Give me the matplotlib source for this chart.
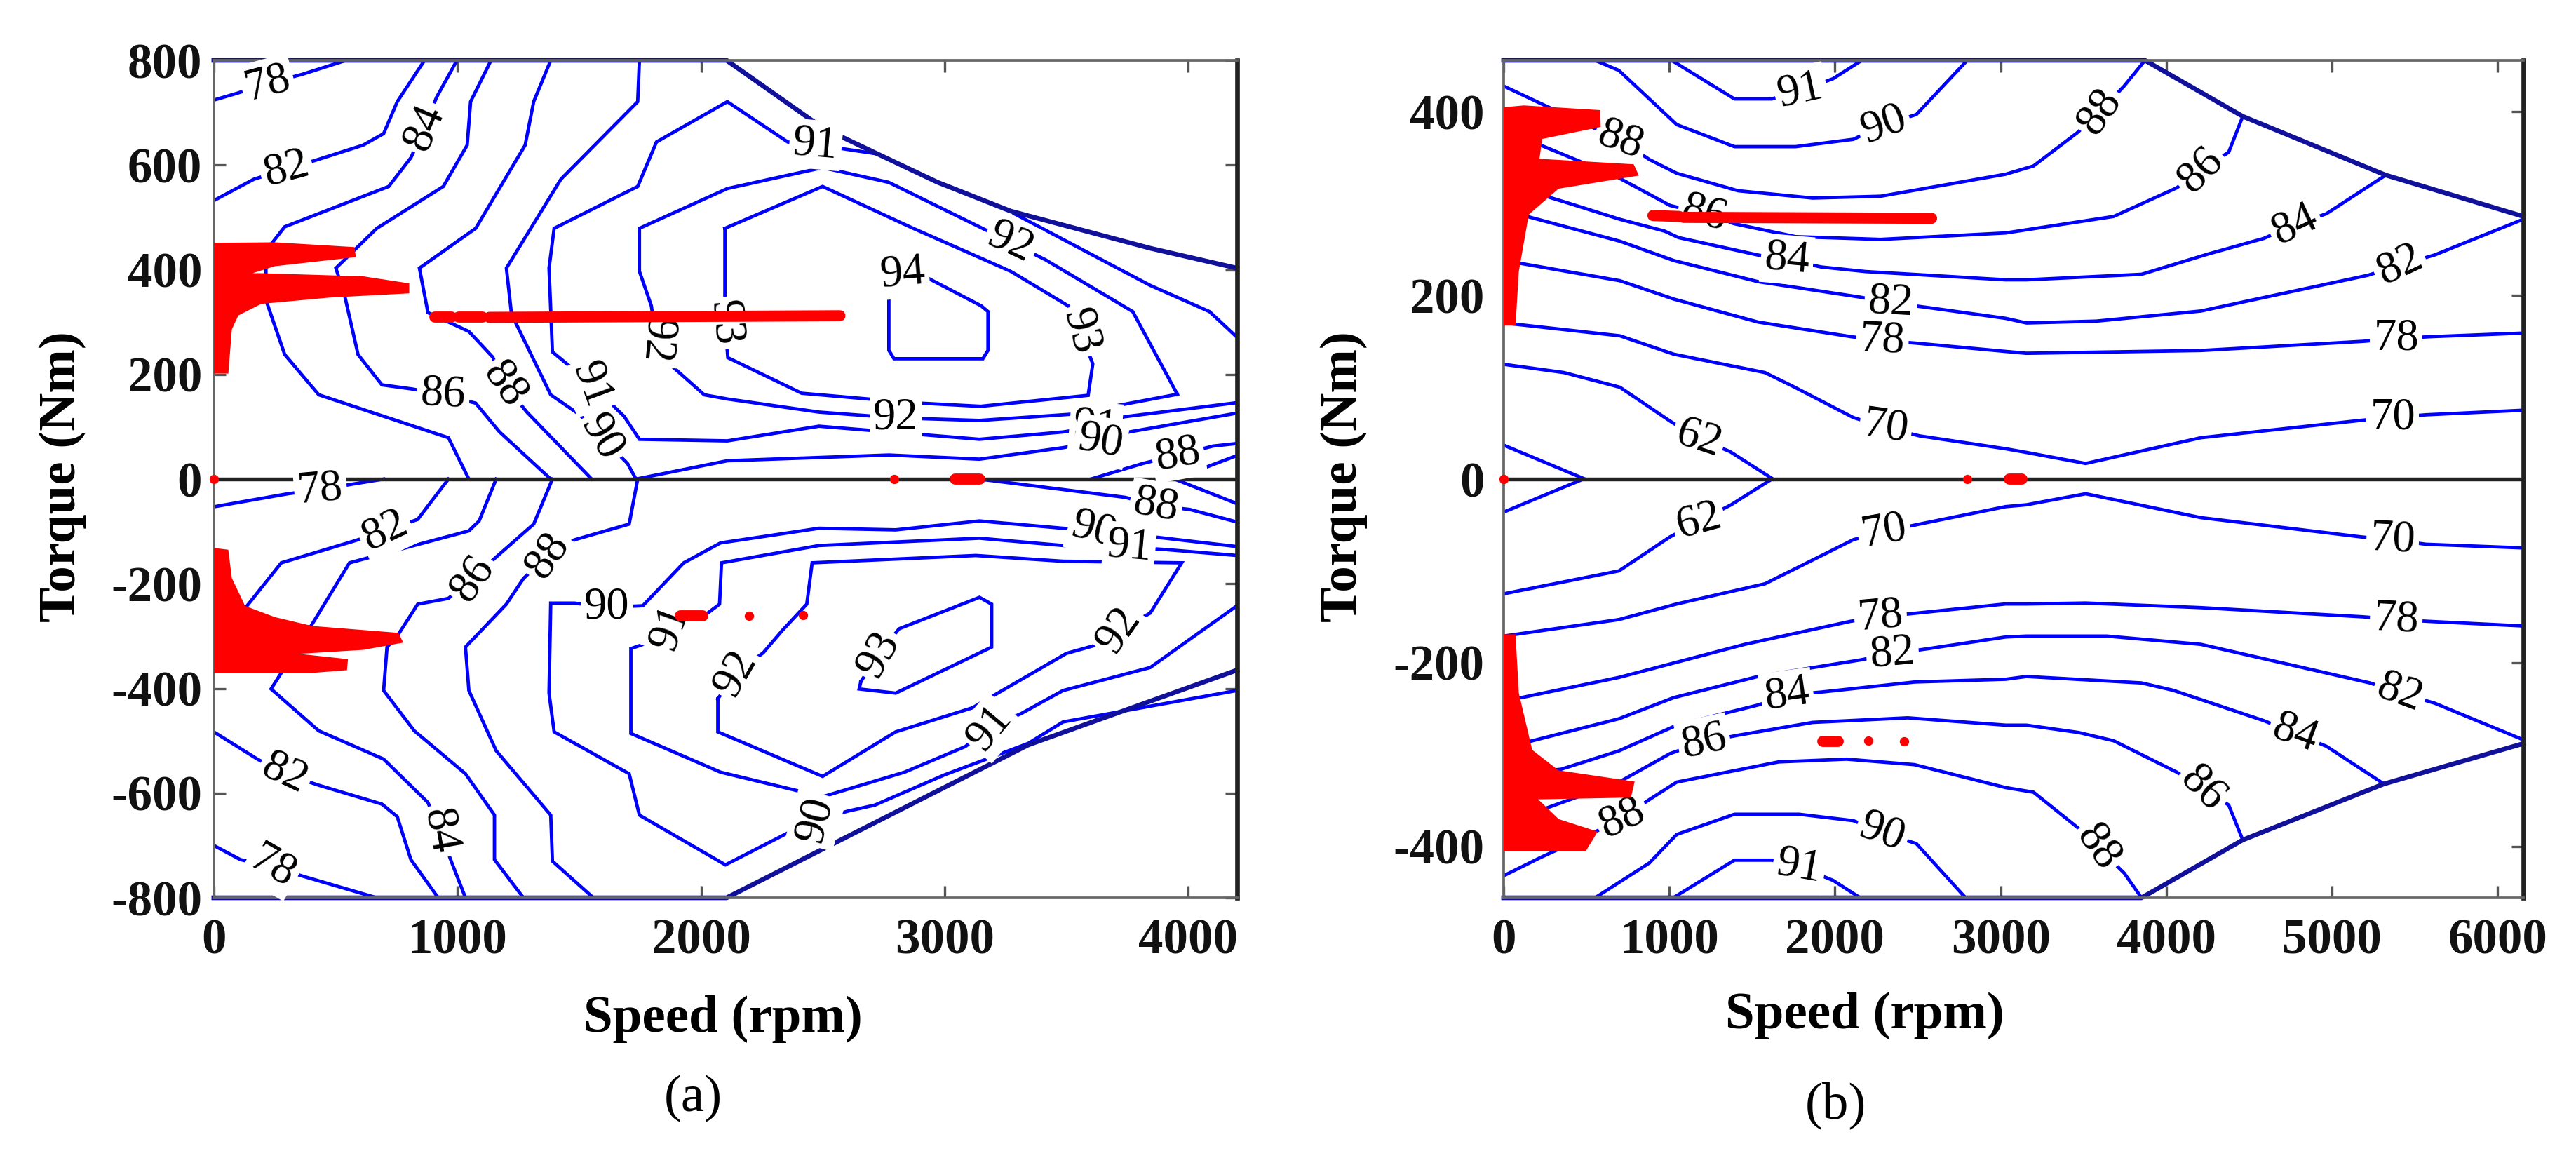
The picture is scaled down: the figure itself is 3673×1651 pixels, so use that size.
import matplotlib
matplotlib.use("Agg")
import matplotlib.pyplot as plt

plt.rcParams["axes.unicode_minus"] = False

# ---------------- panel (a): efficiency contours (speed rpm, torque Nm) ----------------
a_u78 = [(0, 724), (95, 737), (221, 756), (361, 773), (543, 800)]
a_u82 = [(0, 532), (165, 573), (298, 592), (431, 611), (613, 638), (697, 660), (753, 721), (865, 800)]
a_u84 = [(998, 800), (914, 729), (865, 671), (809, 614), (718, 559), (291, 482), (214, 436), (214, 342),
         (291, 238), (431, 161), (963, 79), (1047, 0)]
a_u86 = [(1138, 800), (1054, 721), (1040, 638), (942, 559), (669, 479), (501, 403), (536, 353), (592, 238),
         (690, 180), (816, 172), (942, 161), (1075, 145), (1173, 90), (1383, 0)]
a_u88 = [(1383, 800), (1313, 721), (1278, 638), (1075, 479), (844, 403), (879, 318), (1047, 282), (1145, 233),
         (1194, 180), (1285, 128), (1551, 0)]
a_u90 = [(1747, 800), (1740, 721), (1425, 573), (1201, 403), (1222, 315), (1383, 161), (1502, 123), (1593, 79),
         (1698, 30), (1733, 0), (2108, 35), (2771, 46), (3143, 38), (3486, 60), (3640, 72), (3757, 90), (4200, 126)]
a_u91 = [(2713, 622), (2627, 628), (2470, 639), (2356, 644), (2108, 721), (1817, 644), (1740, 559), (1397, 479),
         (1376, 403), (1390, 243), (1481, 208), (1551, 180), (1684, 120), (1747, 76), (2108, 73), (2484, 101),
         (3143, 76), (3486, 90), (3620, 100), (3737, 119), (4200, 146)]
a_u91b = [(3286, 507), (3844, 370), (4087, 320), (4200, 271)]
a_u92 = [(3955, 162), (3772, 320), (3414, 419), (3271, 452), (3164, 477), (2770, 567), (2499, 595), (2108, 555),
         (1747, 479), (1747, 397), (1796, 331), (1817, 265), (1873, 219), (2013, 161), (2108, 153), (2484, 128),
         (2799, 117), (3143, 112), (3522, 124), (3955, 162)]
a_u93 = [(2098, 479), (2098, 298), (2110, 232), (2413, 164), (2860, 146), (3148, 139), (3589, 160), (3608, 220),
         (3558, 282), (3507, 331), (3271, 397), (2871, 479), (2499, 559), (2098, 479)]
a_u94 = [(2771, 353), (2771, 246), (2792, 230), (3157, 230), (3178, 246), (3178, 320), (3150, 331), (2935, 383),
         (2828, 392), (2771, 353)]
a_u88b = [(3600, 0), (3815, 30), (3958, 46), (4101, 63), (4200, 68)]
a_u_x = [(3944, 0), (4200, 45)]
a_l78a = [(0, -53), (305, -28), (438, -20), (578, -9), (697, 0)]
a_l82a = [(40, -300), (123, -250), (277, -160), (571, -119), (704, -99), (837, -77), (963, 0)]
a_l84 = [(1159, 0), (1089, -80), (1047, -99), (557, -160), (396, -283), (235, -401), (431, -481), (697, -535),
         (879, -618), (928, -673), (977, -733), (1033, -800)]
a_l86 = [(1390, 0), (1313, -86), (1159, -149), (1061, -190), (963, -228), (837, -239), (753, -300), (711, -321),
         (697, -404), (823, -481), (1033, -563), (1152, -642), (1152, -727), (1271, -800)]
a_l88 = [(1740, 0), (1705, -86), (1481, -116), (1369, -146), (1271, -190), (1201, -239), (1033, -321),
         (1047, -404), (1159, -519), (1383, -642), (1390, -730), (1558, -800)]
a_l90 = [(4200, -129), (3758, -105), (3615, -97), (3486, -94), (3143, -80), (2799, -97), (2484, -94),
         (2080, -122), (1929, -160), (1761, -242), (1614, -245), (1481, -237), (1383, -237), (1376, -409),
         (1397, -483), (1705, -563), (1747, -642), (2100, -737), (2348, -678), (2470, -651), (2606, -634),
         (2713, -623), (3000, -565), (3343, -505), (3486, -464), (4200, -404)]
a_l91 = [(4200, -146), (3915, -135), (3758, -130), (3486, -127), (3143, -113), (2484, -127), (2084, -160),
         (2076, -239), (2013, -261), (1873, -283), (1761, -316), (1712, -324), (1712, -486), (2080, -560),
         (2499, -607), (2835, -560), (3085, -511), (3186, -475), (3314, -448), (3486, -404), (3844, -360),
         (4058, -289), (4200, -242)]
a_l92 = [(2069, -420), (2069, -483), (2499, -568), (2799, -483), (3114, -437), (3500, -333), (3608, -319),
         (3715, -289), (3844, -256), (3973, -160), (3486, -157), (3128, -146), (2456, -160), (2434, -239),
         (2334, -289), (2255, -332), (2141, -371), (2069, -420)]
a_l93 = [(2656, -387), (2649, -401), (2799, -409), (3193, -321), (3193, -239), (3143, -226), (2813, -286),
         (2728, -335), (2656, -387)]
a_l82b = [(0, -483), (179, -535), (291, -563), (431, -585), (690, -621), (753, -645), (809, -727), (921, -800)]
a_l78b = [(0, -700), (109, -727), (242, -741), (375, -760), (669, -800)]
a_l88b = [(3143, 0), (3742, -35), (3867, -51), (4006, -58), (4200, -82)]
a_l_x = [(3944, 0), (4200, -47)]
a_bound_u = [(0, 800), (2105, 800), (2499, 671), (2971, 567), (3271, 512), (3844, 441), (4200, 403)]
a_bound_l = [(0, -800), (2105, -800), (3343, -508), (4200, -365)]

a_lab_val = [78, 82, 84, 86, 88, 91, 90, 91, 92, 94, 93, 93, 92, 92, 91, 90, 88,
             78, 82, 86, 88, 90, 91, 92, 93, 92, 90, 91, 88, 91, 90, 84, 82, 78]
a_lab_s = [221, 298, 865, 942, 1194, 1551, 1593, 2470, 3271, 2828, 3558, 2098, 1817, 2799, 3620, 3640, 3958,
           438, 704, 1061, 1369, 1614, 1873, 2141, 2728, 3715, 3615, 3758, 3867, 3186, 2470, 928, 291, 242]
a_lab_t = [756, 592, 671, 161, 180, 180, 79, 639, 452, 392, 282, 298, 265, 117, 100, 72, 46,
           -20, -99, -190, -146, -245, -283, -371, -335, -289, -97, -130, -51, -475, -651, -673, -563, -741]

# operating points (red): cloud outlines, point strings, isolated dots
a_red_up = [(0, 448), (249, 449), (571, 440), (575, 427), (249, 410), (160, 397), (130, 390), (193, 390),
            (613, 384), (795, 371), (795, 358), (473, 350), (193, 338), (95, 315), (67, 287), (53, 205),
            (0, 205)]
a_red_low = [(0, -135), (53, -138), (67, -190), (123, -245), (249, -267), (403, -284), (753, -297), (767, -310),
             (613, -323), (403, -329), (263, -333), (543, -347), (540, -362), (403, -367), (0, -367)]
a_red_runs = [[(907, 310), (977, 310)], [(1005, 309), (1103, 309)], [(1131, 309), (2570, 312)],
              [(1915, -261), (2006, -261)], [(3042, 0), (3143, 0)]]
a_red_dots = [(0, 0), (2792, 0), (2198, -261), (2420, -260)]

# ---------------- panel (b) ----------------
b_u62a = [(0, 37), (491, 0)]
b_u62 = [(0, 125), (364, 116), (702, 100), (1006, 63), (1175, 44), (1366, 30), (1626, 0)]
b_u70 = [(0, 170), (54, 169), (702, 156), (1027, 136), (1577, 116), (1746, 101), (2111, 67), (2306, 56),
         (2511, 47), (3030, 33), (3156, 29), (3513, 17), (4208, 45), (5176, 64), (5366, 67), (5566, 70), (6155, 75)]
b_u78 = [(0, 238), (68, 236), (702, 216), (1027, 196), (1535, 171), (2099, 155), (2286, 151), (2491, 148),
         (3030, 139), (3156, 137), (4208, 140), (5187, 150), (5387, 153), (5587, 155), (6155, 159)]
b_u82 = [(0, 292), (142, 286), (474, 270), (702, 259), (1027, 238), (1535, 215), (2155, 198), (2337, 192),
         (2552, 187), (3030, 175), (3156, 170), (3577, 172), (4208, 183), (5218, 222), (5408, 233), (5618, 244),
         (6155, 283)]
b_u84 = [(0, 322), (400, 300), (700, 283), (972, 270), (1055, 263), (1535, 244), (1711, 239), (1916, 231),
         (2184, 226), (3030, 217), (3156, 217), (3850, 223), (4250, 245), (4587, 262), (4776, 277), (4966, 289),
         (5324, 331)]
b_u86 = [(0, 380), (286, 359), (675, 330), (1004, 298), (1209, 289), (1393, 278), (1762, 264), (2276, 261),
         (3030, 268), (3682, 286), (4061, 317), (4208, 336), (4376, 356), (4461, 395)]
b_u88 = [(0, 428), (224, 409), (706, 369), (880, 348), (1045, 333), (1414, 314), (1865, 306), (2276, 308),
         (3030, 332), (3198, 341), (3461, 377), (3598, 400), (3745, 428), (3871, 456)]
b_u90 = [(552, 456), (696, 445), (1045, 386), (1393, 362), (1762, 362), (2111, 370), (2296, 386), (2491, 397),
         (2798, 456)]
b_u91 = [(1014, 456), (1393, 414), (1619, 414), (1793, 423), (1988, 436), (2162, 456)]
b_l62a = [(0, -36), (481, 0)]
b_l62 = [(0, -125), (696, -100), (1004, -63), (1178, -46), (1373, -28), (1619, 0)]
b_l70 = [(0, -171), (696, -153), (1045, -136), (1578, -114), (2111, -66), (2296, -57), (2511, -49), (3030, -30),
         (3156, -28), (3513, -16), (4208, -42), (5176, -63), (5366, -66), (5566, -71), (6155, -75)]
b_l78 = [(0, -240), (81, -239), (696, -216), (1455, -180), (2091, -155), (2275, -150), (2491, -146),
         (3030, -136), (3156, -136), (3513, -135), (4208, -140), (5187, -150), (5387, -153), (5587, -155),
         (6155, -160)]
b_l82 = [(0, -292), (152, -286), (696, -261), (1027, -238), (1535, -215), (2152, -197), (2347, -190),
         (2552, -185), (3030, -172), (3156, -171), (3640, -171), (4208, -180), (5229, -222), (5408, -233),
         (5618, -244), (6155, -284)]
b_l84 = [(0, -322), (347, -316), (696, -296), (1045, -268), (1537, -246), (1711, -235), (1916, -232),
         (2480, -221), (3030, -218), (3156, -215), (3850, -222), (4040, -230), (4587, -263), (4776, -277),
         (4966, -291), (5313, -332)]
b_l86 = [(0, -375), (696, -330), (1004, -299), (1209, -286), (1414, -279), (1865, -265), (2439, -260),
         (3030, -268), (3156, -268), (3471, -276), (3682, -285), (4061, -319), (4219, -337), (4376, -355),
         (4461, -393)]
b_l88 = [(0, -432), (224, -412), (491, -390), (716, -369), (880, -349), (1045, -330), (1660, -308),
         (2070, -305), (2480, -311), (3030, -336), (3198, -341), (3461, -379), (3587, -401), (3745, -429),
         (3850, -456)]
b_l90 = [(552, -456), (880, -418), (1045, -387), (1393, -365), (1783, -365), (2111, -372), (2285, -385),
         (2491, -397), (2788, -456)]
b_l91 = [(1024, -456), (1393, -415), (1619, -415), (1783, -422), (1988, -437), (2152, -456)]
b_bound_u = [(0, 456), (3871, 456), (4461, 395), (5324, 331), (6155, 286)]
b_bound_l = [(0, -456), (3850, -456), (4461, -393), (5313, -332), (6155, -288)]

b_lab_val = [91, 90, 88, 88, 86, 86, 84, 84, 82, 82, 78, 78, 70, 70, 62,
             62, 70, 70, 78, 78, 82, 82, 84, 84, 86, 86, 88, 88, 90, 91]
b_lab_s = [1793, 2296, 706, 3598, 1209, 4208, 1711, 4776, 2337, 5408, 2286, 5387, 2306, 5366, 1175,
           1178, 2296, 5366, 2275, 5387, 2347, 5408, 1711, 4776, 1209, 4219, 716, 3587, 2285, 1783]
b_lab_t = [423, 386, 369, 400, 289, 336, 239, 277, 192, 233, 151, 153, 56, 67, 44,
           -46, -57, -66, -150, -153, -190, -233, -235, -277, -286, -337, -369, -401, -385, -422]

b_red_up = [(0, 403), (122, 405), (573, 400), (575, 385), (224, 372), (204, 347), (778, 341), (801, 332),
            (327, 318), (142, 289), (81, 226), (62, 169), (0, 169)]
b_red_low = [(0, -171), (62, -171), (81, -233), (163, -296), (327, -319), (778, -331), (760, -345), (183, -347),
             (327, -372), (552, -385), (491, -403), (0, -403)]
b_red_runs = [[(901, 287), (1060, 286)], [(1085, 285), (2583, 284)], [(1927, -286), (2019, -286)],
              [(3050, 0), (3130, 0)]]
b_red_dots = [(0, 0), (2798, 0), (2203, -285), (2419, -286)]

# ---------------- styling ----------------
a_lines = [a_u78, a_u82, a_u84, a_u86, a_u88, a_u90, a_u91, a_u91b, a_u92, a_u93, a_u94, a_u88b, a_u_x,
           a_l78a, a_l82a, a_l84, a_l86, a_l88, a_l90, a_l91, a_l92, a_l93, a_l82b, a_l78b, a_l88b, a_l_x]
b_lines = [b_u62a, b_u62, b_u70, b_u78, b_u82, b_u84, b_u86, b_u88, b_u90, b_u91,
           b_l62a, b_l62, b_l70, b_l78, b_l82, b_l84, b_l86, b_l88, b_l90, b_l91]
a_rot = [15, 15, 67, -3, -55, -70, -60, -5, -25, 5, -75, -85, -95, 0, -5, -10, 10,
         5, 25, 55, 55, 0, 70, 60, 60, 55, -15, -5, -10, 50, 75, -80, -25, -30]
b_rot = [12, 20, -20, 55, -15, 45, -5, 25, -3, 25, -3, 0, -8, 0, -18,
         15, 10, -3, 5, -3, 5, -20, 8, -20, 12, -45, 25, -55, -20, -10]

SERIF = "Liberation Serif"
BLUE = "#0000ff"
NAVY = "#10109a"
RED = "#ff0000"

fig = plt.figure(figsize=(3673 / 300, 1651 / 300), dpi=300)
ax_a = fig.add_axes([0.0830, 0.2247, 0.3972, 0.7232])
ax_b = fig.add_axes([0.5837, 0.2247, 0.3959, 0.7232])


def xy(pts):
    return [p[0] for p in pts], [p[1] for p in pts]


def draw(ax, lines, bounds, lab_val, lab_s, lab_t, rots, clouds, runs, dots, xmax, ymax, xticks, yticks, ypad):
    for pts in lines:
        x, y = xy(pts)
        ax.plot(x, y, color=BLUE, lw=1.15, zorder=2, solid_joinstyle="miter")
    for pts in bounds:
        x, y = xy(pts)
        ax.plot(x, y, color=NAVY, lw=1.6, zorder=2.2, clip_on=False)
    ax.axhline(0, color="#222222", lw=1.3, zorder=2.5)
    for v, s, t, r in zip(lab_val, lab_s, lab_t, rots):
        ax.text(s, t, str(v), fontsize=15.5, family=SERIF, rotation=r, rotation_mode="anchor",
                ha="center", va="center", zorder=3,
                bbox=dict(boxstyle="square,pad=0.08", fc="white", ec="none"))
    for pts in clouds:
        x, y = xy(pts)
        ax.fill(x, y, color=RED, lw=1.2, ec=RED, zorder=4)
    for pts in runs:
        x, y = xy(pts)
        ax.plot(x, y, color=RED, lw=3.8, zorder=4, solid_capstyle="round")
    x, y = xy(dots)
    ax.plot(x, y, "o", color=RED, ms=3.2, mec="none", zorder=4, clip_on=False)

    ax.set_xlim(0, xmax)
    ax.set_ylim(-ymax, ymax)
    ax.set_xticks(xticks)
    ax.set_yticks(yticks)
    ax.tick_params(direction="in", length=4, width=0.8, color="#555555", top=True, right=True)
    ax.tick_params(axis="x", pad=7)
    ax.tick_params(axis="y", pad=ypad)
    for lab in ax.get_xticklabels() + ax.get_yticklabels():
        lab.set_fontfamily(SERIF)
        lab.set_fontweight("bold")
        lab.set_fontsize(17)
        lab.set_color("#111111")
    for name, sp in ax.spines.items():
        sp.set_color("#666666")
        sp.set_linewidth(0.9)
    ax.spines["right"].set_color("#222222")
    ax.spines["right"].set_linewidth(1.6)


draw(ax_a, a_lines, [a_bound_u, a_bound_l], a_lab_val, a_lab_s, a_lab_t, a_rot,
     [a_red_up, a_red_low], a_red_runs, a_red_dots, 4200, 800,
     [0, 1000, 2000, 3000, 4000], list(range(-800, 801, 200)), 4)
draw(ax_b, b_lines, [b_bound_u, b_bound_l], b_lab_val, b_lab_s, b_lab_t, b_rot,
     [b_red_up, b_red_low], b_red_runs, b_red_dots, 6155, 456,
     [0, 1000, 2000, 3000, 4000, 5000, 6000], [-400, -200, 0, 200, 400], 6.5)

lab_kw = dict(fontsize=18, family=SERIF, fontweight="bold", ha="center", va="center")
fig.text(1031 / 3673, 1 - 1453 / 1651, "Speed (rpm)", **lab_kw)
fig.text(2659 / 3673, 1 - 1448 / 1651, "Speed (rpm)", **lab_kw)
fig.text(89 / 3673, 1 - 680 / 1651, "Torque (Nm)", rotation=90, **lab_kw)
fig.text(1916 / 3673, 1 - 680 / 1651, "Torque (Nm)", rotation=90, **lab_kw)
fig.text(988 / 3673, 1 - 1566 / 1651, "(a)", fontsize=18, family=SERIF, ha="center", va="center")
fig.text(2617 / 3673, 1 - 1576 / 1651, "(b)", fontsize=18, family=SERIF, ha="center", va="center")

fig.savefig("out.png", dpi=300)
